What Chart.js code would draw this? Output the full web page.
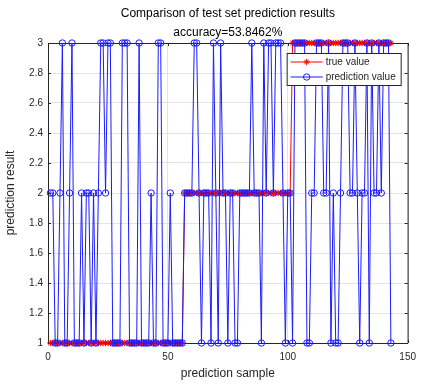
<!DOCTYPE html>
<html>
<head>
<meta charset="utf-8">
<script src="https://cdn.jsdelivr.net/npm/chart.js@4.4.1/dist/chart.umd.min.js"></script>
<style>
  html, body { margin: 0; padding: 0; background: #fff; }
  canvas { display: block; }
</style>
</head>
<body>
<canvas id="predChart" width="424" height="384"></canvas>
<script>
// test set labels (samples 1..143) and the classifier output
const trueValue = [
  1,1,1,1,1,1,1,1,1,1, 1,1,1,1,1,1,1,1,1,1, 1,1,1,1,1,1,1,1,1,1,
  1,1,1,1,1,1,1,1,1,1, 1,1,1,1,1,1,1,1,1,1, 1,1,1,1,1,1,
  2,2,2,2,2,2,2,2,2,2, 2,2,2,2,2,2,2,2,2,2, 2,2,2,2,2,2,2,2,2,2,
  2,2,2,2,2,2,2,2,2,2, 2,2,2,2,2,
  3,3,3,3,3,3,3,3,3,3, 3,3,3,3,3,3,3,3,3,3, 3,3,3,3,3,3,3,3,3,3,
  3,3,3,3,3,3,3,3,3,3, 3,3
];
const predValue = [
  2,2,1,1,2,3,1,1,2,3, 1,1,1,2,1,2,2,1,2,1, 2,3,3,2,3,3,1,1,1,1,
  3,3,3,1,1,1,1,3,1,1, 1,1,2,1,1,3,3,1,1,1, 2,1,1,1,1,1,
  2,2,2,2,3,3,2,1,2,2, 2,1,3,2,1,3,2,2,1,2, 2,1,1,2,2,2,2,2,3,2,
  2,2,1,3,2,3,3,2,3,3, 3,2,1,2,2,
  1,3,3,3,3,3,1,1,2,2, 3,3,3,2,2,3,1,2,1,1, 2,3,3,3,2,2,3,2,1,2,
  2,3,1,3,2,2,3,2,3,3, 3,1
];
const seriesNames = ['true value', 'prediction value'];
const xTicks = [0, 50, 100, 150];
const yTicks = [1, 1.2, 1.4, 1.6, 1.8, 2, 2.2, 2.4, 2.6, 2.8, 3];
const titleLines = ['Comparison of test set prediction results', 'accuracy=53.8462%'];
const xTitle = 'prediction sample';
const yTitle = 'prediction result';

const FONT = "'Liberation Sans', Arial, Helvetica, sans-serif";
const AXIS_COLOR = '#262626';
const GRID_COLOR = '#e3e3e3';

const samples = trueValue.map((_, i) => i + 1);
const toPoints = arr => arr.map((v, i) => ({ x: samples[i], y: v }));

function drawMarker(ctx, style, x, y, r, color) {
  ctx.save();
  ctx.strokeStyle = color;
  ctx.lineWidth = 1;
  ctx.beginPath();
  if (style === 'circle') {
    ctx.arc(x, y, r, 0, Math.PI * 2);
  } else {
    for (let k = 0; k < 4; k++) {
      const a = k * Math.PI / 4;
      ctx.moveTo(x - r * Math.cos(a), y - r * Math.sin(a));
      ctx.lineTo(x + r * Math.cos(a), y + r * Math.sin(a));
    }
  }
  ctx.stroke();
  ctx.restore();
}

const matlabFrame = {
  id: 'matlabFrame',
  beforeDatasetsDraw(chart) {
    const { ctx, chartArea: a } = chart;
    ctx.save();
    ctx.strokeStyle = AXIS_COLOR;
    ctx.lineWidth = 1;
    ctx.beginPath();
    ctx.moveTo(a.left, a.top + 0.5);
    ctx.lineTo(a.right + 0.5, a.top + 0.5);
    ctx.lineTo(a.right + 0.5, a.bottom);
    ctx.stroke();
    // small inward tick marks like matlab
    const xs = chart.scales.x, ys = chart.scales.y;
    ctx.beginPath();
    xTicks.forEach(v => {
      const px = Math.round(xs.getPixelForValue(v)) + 0.5;
      ctx.moveTo(px, a.bottom); ctx.lineTo(px, a.bottom - 3);
      ctx.moveTo(px, a.top); ctx.lineTo(px, a.top + 3);
    });
    yTicks.forEach(v => {
      const py = Math.round(ys.getPixelForValue(v)) + 0.5;
      ctx.moveTo(a.left, py); ctx.lineTo(a.left + 3, py);
      ctx.moveTo(a.right, py); ctx.lineTo(a.right - 3, py);
    });
    ctx.stroke();
    ctx.restore();
  },
  afterDraw(chart) {
    const { ctx, chartArea: a } = chart;
    ctx.save();
    // title
    ctx.fillStyle = '#000';
    ctx.font = '12px ' + FONT;
    ctx.textAlign = 'center';
    ctx.textBaseline = 'middle';
    const cx = (a.left + a.right) / 2;
    ctx.fillText(titleLines[0], cx, 14);
    ctx.fillText(titleLines[1], cx, 33);

    // legend box, top right inside the axes
    const bx = a.right - 121, by = a.top + 10, bw = 114, bh = 32;
    ctx.fillStyle = '#fff';
    ctx.fillRect(bx, by, bw, bh);
    ctx.strokeStyle = AXIS_COLOR;
    ctx.lineWidth = 1;
    ctx.strokeRect(bx + 0.5, by + 0.5, bw, bh);
    ctx.font = '10px ' + FONT;
    ctx.textAlign = 'left';
    chart.data.datasets.forEach((ds, i) => {
      const ry = by + 9 + i * 15;
      ctx.strokeStyle = ds.borderColor;
      ctx.beginPath();
      ctx.moveTo(bx + 4, ry);
      ctx.lineTo(bx + 36, ry);
      ctx.stroke();
      drawMarker(ctx, ds.pointStyle, bx + 20, ry, ds.pointRadius, ds.borderColor);
      ctx.fillStyle = AXIS_COLOR;
      ctx.fillText(ds.label, bx + 39, ry);
    });
    ctx.restore();
  }
};

new Chart(document.getElementById('predChart'), {
  type: 'line',
  data: {
    datasets: [
      {
        label: seriesNames[0],
        data: toPoints(trueValue),
        borderColor: '#ff0000',
        borderWidth: 1,
        pointStyle: 'star',
        pointRadius: 3.2,
        pointBorderWidth: 1,
        pointBorderColor: '#ff0000',
        pointBackgroundColor: '#ff0000',
        tension: 0,
        clip: false,
        order: 2
      },
      {
        label: seriesNames[1],
        data: toPoints(predValue),
        borderColor: '#1a1aff',
        borderWidth: 1,
        pointStyle: 'circle',
        pointRadius: 3.2,
        pointBorderWidth: 1,
        pointBorderColor: '#1a1aff',
        pointBackgroundColor: 'rgba(0,0,0,0)',
        tension: 0,
        clip: false,
        order: 1
      }
    ]
  },
  options: {
    responsive: false,
    animation: false,
    devicePixelRatio: 1,
    layout: { padding: { top: 43, right: 13, left: 3, bottom: 0 } },
    plugins: {
      legend: { display: false },
      title: { display: false },
      tooltip: { enabled: false }
    },
    scales: {
      x: {
        type: 'linear',
        min: 0,
        max: 150,
        afterBuildTicks: s => { s.ticks = xTicks.map(v => ({ value: v })); },
        afterFit: s => { s.height = 41; },
        grid: { color: GRID_COLOR, drawTicks: false },
        border: { color: AXIS_COLOR },
        ticks: { color: AXIS_COLOR, padding: 8, maxRotation: 0, font: { size: 10, family: FONT } },
        title: { display: true, text: xTitle, color: AXIS_COLOR, padding: { top: 0, bottom: 3 }, font: { size: 12, family: FONT } }
      },
      y: {
        type: 'linear',
        min: 1,
        max: 3,
        afterBuildTicks: s => { s.ticks = yTicks.map(v => ({ value: v })); },
        afterFit: s => { s.width = 45; },
        grid: { color: GRID_COLOR, drawTicks: false },
        border: { color: AXIS_COLOR },
        ticks: { color: AXIS_COLOR, padding: 5, callback: v => String(v), font: { size: 10, family: FONT } },
        title: { display: true, text: yTitle, color: AXIS_COLOR, padding: { top: 0, bottom: 0 }, font: { size: 12, family: FONT } }
      }
    }
  },
  plugins: [matlabFrame]
});
</script>
</body>
</html>
